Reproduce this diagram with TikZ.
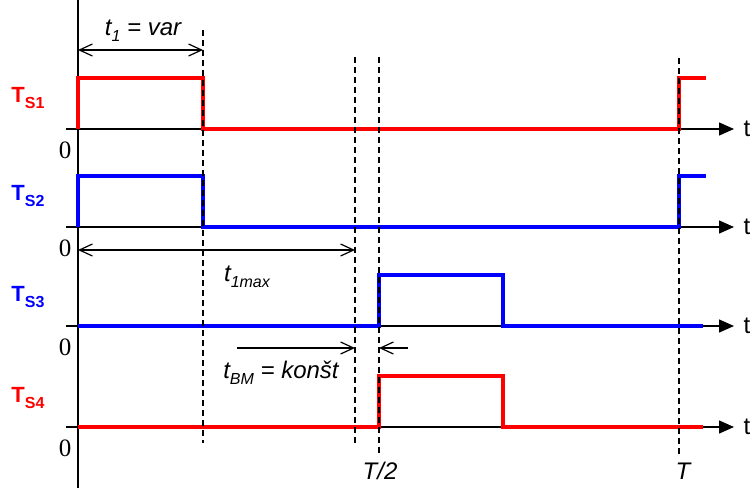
\documentclass[tikz,border=0pt]{standalone}
\usepackage{fontspec}
\setmainfont{Liberation Serif}
\setsansfont{Liberation Sans}
\usetikzlibrary{arrows.meta,positioning}

\tikzset{
  sig/.style={line width=4pt,line join=miter},
  axis/.style={line width=1.4pt,-{Triangle[length=15pt,width=13pt]}},
  guide/.style={line width=1.3pt,dash pattern=on 6pt off 4pt},
  dimarrow/.style={line width=1.2pt,{Straight Barb[length=13pt,width=12pt]}-{Straight Barb[length=13pt,width=12pt]}},
  onearrow/.style={line width=1.2pt,-{Straight Barb[length=13pt,width=12pt]}},
  swlabel/.style={font=\sffamily\bfseries\fontsize{22}{24}\selectfont},
  zerolabel/.style={font=\fontsize{25}{27}\selectfont},
  tlabel/.style={font=\sffamily\fontsize{24}{26}\selectfont},
  dimlabel/.style={font=\sffamily\itshape\fontsize{24}{26}\selectfont},
}
\newcommand{\lowsub}[1]{\raisebox{-0.45ex}{\fontsize{16}{16}\selectfont #1}}

\begin{document}
\begin{tikzpicture}[x=1pt,y=-1pt]
%
\useasboundingbox (0,0) rectangle (750,488);
%
\definecolor{cred}{rgb}{1.0,0.0,0.0}
\definecolor{cblue}{rgb}{0.0,0.0,1.0}
%
% time axes
\coordinate (vtop) at (78,0);
\coordinate (vbot) at (78,488);
\draw[line width=1.4pt] (vtop) -- (vbot);
\foreach \n/\y in {1/129,2/227,3/326,4/427}{
  \coordinate (a\n) at (66,\y);
  \node[tlabel] (t\n) at (747,\y) {t};
  \draw[axis] (a\n) -- (734,\y);
  \node[zerolabel] (z\n) at (65,\y+21) {0};
}
%
% switch signals
\draw[sig,cred] (78,129) -- (78,78) -- (203,78) -- (203,129) -- (679,129) -- (679,78) -- (706,78);
\draw[sig,cblue] (78,227) -- (78,176) -- (203,176) -- (203,227) -- (679,227) -- (679,176) -- (706,176);
\draw[sig,cblue] (78,326) -- (379,326) -- (379,275) -- (503,275) -- (503,326) -- (703,326);
\draw[sig,cred] (78,427) -- (379,427) -- (379,376) -- (503,376) -- (503,427) -- (703,427);
%
\node[swlabel,text=cred] (ts1) at (28,98) {T\lowsub{S1}};
\node[swlabel,text=cblue] (ts2) at (28,196) {T\lowsub{S2}};
\node[swlabel,text=cblue] (ts3) at (28,297) {T\lowsub{S3}};
\node[swlabel,text=cred] (ts4) at (28,398) {T\lowsub{S4}};
%
% guide lines
\coordinate (g1top) at (203,30);
\coordinate (g1bot) at (203,443);
\coordinate (g2top) at (355,57);
\coordinate (g2bot) at (355,443);
\coordinate (g3top) at (379,57);
\coordinate (g3bot) at (379,455);
\coordinate (g4top) at (679,58);
\coordinate (g4bot) at (679,455);
\draw[guide] (g1top) -- (g1bot);
\draw[guide] (g2top) -- (g2bot);
\draw[guide] (g3top) -- (g3bot);
\draw[guide] (g4top) -- (g4bot);
%
% time intervals
\coordinate (d1a) at (78,50);
\coordinate (d1b) at (203,50);
\draw[dimarrow] (d1a) -- (d1b);
\node[dimlabel] (var) at (143,31) {t\lowsub{1} = var};
%
\coordinate (d2a) at (78,250);
\coordinate (d2b) at (355,250);
\draw[dimarrow] (d2a) -- (d2b);
\node[dimlabel] (tmax) at (247,277) {t\lowsub{1max}};
%
\coordinate (d3a) at (237,348);
\coordinate (d3b) at (355,348);
\coordinate (d3c) at (408,348);
\coordinate (d3d) at (379,348);
\draw[onearrow] (d3a) -- (d3b);
\draw[onearrow] (d3c) -- (d3d);
\node[dimlabel] (tbm) at (281,373) {t\lowsub{BM} = konšt};
%
\node[dimlabel] (half) at (380,471) {T/2};
\node[dimlabel] (period) at (683,471) {T};
%
\end{tikzpicture}
\end{document}
